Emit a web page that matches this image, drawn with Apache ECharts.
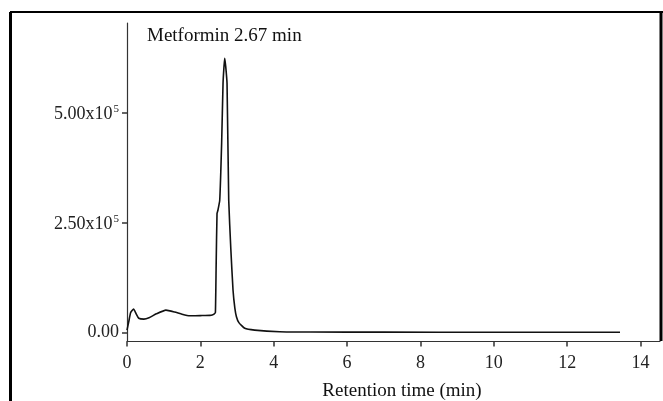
<!DOCTYPE html>
<html>
<head>
<meta charset="utf-8">
<script src="https://cdn.jsdelivr.net/npm/echarts@6/dist/echarts.min.js"></script>
<style>
  html, body { margin: 0; padding: 0; background: #fff; }
  #main { width: 663px; height: 401px; }
</style>
</head>
<body>
<div id="main"></div>
<script>
// chromatogram data
var times = [0, 0.05, 0.1, 0.18, 0.25, 0.32, 0.46, 0.6, 0.8, 1.06, 1.3, 1.5, 1.71, 2.0, 2.26, 2.34, 2.38, 2.41, 2.43, 2.454, 2.48, 2.528, 2.58, 2.618, 2.645, 2.664, 2.69, 2.727, 2.773, 2.83, 2.89, 2.94, 2.983, 3.05, 3.21, 3.48, 4.16, 5.0, 7.0, 10.0, 13.44];
var intensity = [5000, 25000, 45000, 53000, 42000, 32000, 30000, 33000, 42000, 50500, 46000, 41000, 37500, 38000, 38500, 40000, 42000, 45000, 150000, 270000, 278000, 300000, 430000, 566000, 605000, 623000, 605000, 566000, 300000, 190000, 96000, 55000, 35500, 22000, 9000, 5000, 1400, 700, 300, 0, 0];
var xTicks = [0, 2, 4, 6, 8, 10, 12, 14];
var yTicks = [0, 250000, 500000];
var yTickText = { 0: '0.00', 250000: '2.50x10', 500000: '5.00x10' };
var peakNote = 'Metformin 2.67 min';

var serif = '"Liberation Serif", "Times New Roman", serif';

(function () {
  var myChart = echarts.init(document.getElementById('main'))
  var points = times.map(function (t, i) { return [t, intensity[i]] })

  var option = {
    animation: false,
    backgroundColor: '#fff',
    title: {
      text: peakNote,
      left: 147,
      top: 27,
      padding: 0,
      textStyle: { fontFamily: serif, fontSize: 19, fontWeight: 'normal', color: '#111' }
    },
    grid: { left: 127, right: 3, top: 23, bottom: 59.5, containLabel: false, outerBoundsMode: 'none' },
    xAxis: {
      type: 'value',
      min: 0,
      max: 14.53,
      name: 'Retention time (min)',
      nameLocation: 'middle',
      nameGap: 40,
      nameTextStyle: { fontFamily: serif, fontSize: 19, color: '#111', padding: [0, 0, 0, 17] },
      axisLine: { onZero: false, lineStyle: { color: '#333', width: 1.2 } },
      axisTick: { customValues: xTicks, length: 5, lineStyle: { color: '#333', width: 1.5 } },
      axisLabel: {
        customValues: xTicks,
        margin: 13,
        fontFamily: serif,
        fontSize: 18,
        color: '#222'
      },
      splitLine: { show: false }
    },
    yAxis: {
      type: 'value',
      min: -20900,
      max: 703000,
      axisLine: { show: true, lineStyle: { color: '#333', width: 1.2 } },
      axisTick: { show: true, customValues: yTicks, length: 5, lineStyle: { color: '#333', width: 1.5 } },
      axisLabel: {
        customValues: yTicks,
        margin: 8,
        fontFamily: serif,
        fontSize: 18,
        color: '#222',
        formatter: function (v) {
          if (v === 0) return yTickText[0]
          return '{b|' + yTickText[v] + '}{s|5}'
        },
        rich: {
          b: { fontFamily: serif, fontSize: 18, lineHeight: 18, padding: [4, 0, 0, 0], color: '#222' },
          s: { fontFamily: serif, fontSize: 11, lineHeight: 11, verticalAlign: 'top', padding: [0, 0, 0, 1], color: '#222' }
        }
      },
      splitLine: { show: false }
    },
    graphic: [
      // outer frame
      { type: 'line', shape: { x1: 10, y1: 12, x2: 663, y2: 12 }, style: { stroke: '#000', lineWidth: 2 } },
      { type: 'line', shape: { x1: 10.5, y1: 12, x2: 10.5, y2: 401 }, style: { stroke: '#000', lineWidth: 3 } },
      { type: 'line', shape: { x1: 661, y1: 12, x2: 661, y2: 341 }, style: { stroke: '#000', lineWidth: 3 } }
    ],
    series: [{
      type: 'line',
      data: points,
      showSymbol: false,
      smooth: 0.15,
      lineStyle: { color: '#111', width: 1.6 }
    }]
  }
  myChart.setOption(option)

  window.addEventListener('resize', function () {
    myChart.resize()
  })
})();
</script>
</body>
</html>
